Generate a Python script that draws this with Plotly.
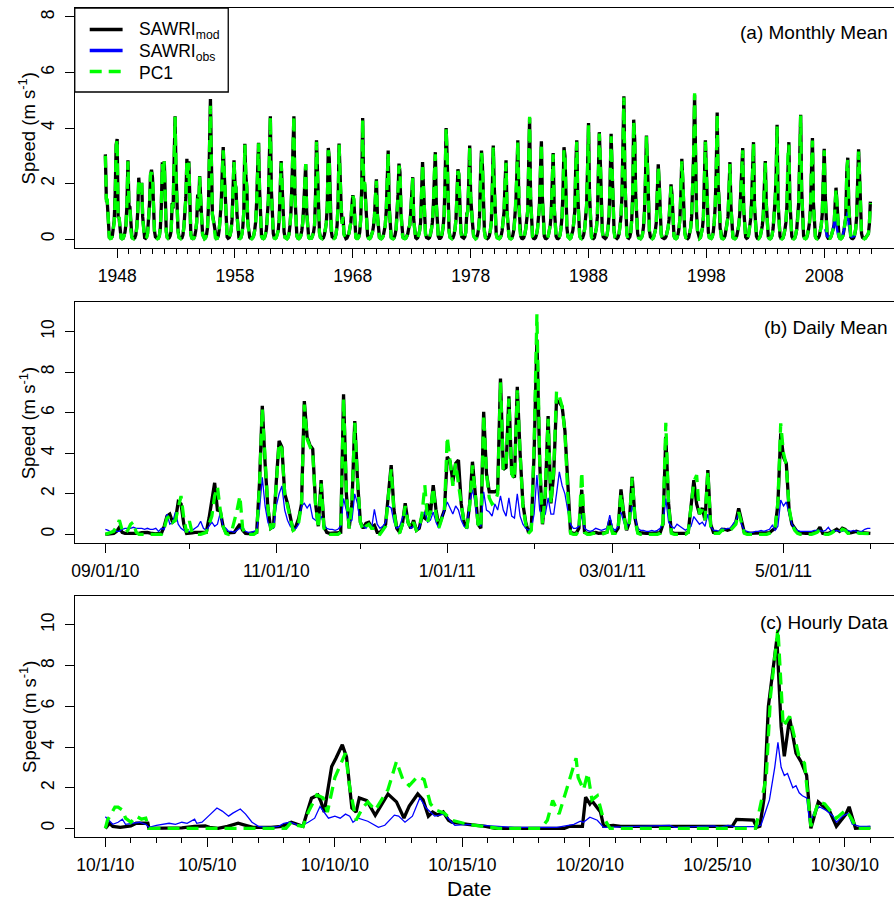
import pandas as pd
import plotly.graph_objects as go

# ---------------------------------------------------------------------------
# (a) Monthly mean speed, Jan 1947 - Dec 2011 (one row per year, Jan..Dec)
# ---------------------------------------------------------------------------
MONTHLY_START_YEAR = 1947

mod_monthly = [
    [3.05, 1.45, 1.30, 0.35, 0.08, 0.03, 0.04, 0.10, 0.30, 0.65, 1.60, 3.40],  # 1947
    [3.60, 0.80, 0.75, 0.20, 0.05, 0.02, 0.03, 0.12, 0.25, 0.55, 1.25, 2.84],  # 1948
    [1.20, 1.15, 0.35, 0.08, 0.03, 0.02, 0.05, 0.15, 0.45, 1.00, 2.21, 1.65],  # 1949
    [1.75, 2.03, 0.80, 0.20, 0.05, 0.03, 0.08, 0.22, 0.60, 1.30, 2.30, 2.50],  # 1950
    [2.20, 0.90, 0.30, 0.08, 0.03, 0.02, 0.04, 0.12, 0.40, 1.20, 2.77, 2.20],  # 1951
    [2.80, 1.10, 0.30, 0.07, 0.03, 0.05, 0.12, 0.30, 1.30, 1.10, 2.60, 4.42],  # 1952
    [2.30, 0.90, 0.30, 0.08, 0.03, 0.02, 0.04, 0.15, 0.45, 0.90, 1.50, 2.89],  # 1953
    [2.10, 2.80, 1.00, 0.20, 0.05, 0.02, 0.03, 0.10, 0.30, 0.60, 1.60, 1.00],  # 1954
    [2.27, 1.30, 0.80, 0.20, 0.05, 0.02, 0.05, 0.15, 0.40, 1.20, 3.20, 5.04],  # 1955
    [2.80, 0.90, 0.70, 0.45, 0.10, 0.03, 0.04, 0.12, 0.35, 0.70, 1.30, 2.40],  # 1956
    [3.31, 2.40, 1.40, 0.40, 0.08, 0.03, 0.05, 0.15, 0.30, 0.70, 1.60, 2.84],  # 1957
    [2.00, 1.85, 0.90, 0.20, 0.05, 0.03, 0.06, 0.18, 0.45, 1.00, 3.43, 2.30],  # 1958
    [1.90, 0.60, 0.20, 0.06, 0.03, 0.02, 0.05, 0.12, 0.30, 0.60, 1.30, 2.60],  # 1959
    [3.47, 1.80, 0.50, 0.12, 0.04, 0.02, 0.05, 0.15, 0.35, 0.80, 1.40, 2.90],  # 1960
    [4.42, 1.80, 0.60, 0.20, 0.05, 0.03, 0.06, 0.15, 0.30, 0.70, 1.80, 2.81],  # 1961
    [1.90, 0.70, 0.25, 0.07, 0.03, 0.02, 0.06, 0.18, 0.50, 1.00, 2.00, 3.97],  # 1962
    [4.42, 1.60, 0.50, 0.12, 0.04, 0.02, 0.05, 0.12, 0.30, 0.60, 1.20, 2.20],  # 1963
    [2.69, 1.00, 0.30, 0.08, 0.03, 0.02, 0.04, 0.12, 0.25, 0.50, 1.50, 3.56],  # 1964
    [2.40, 0.80, 0.25, 0.07, 0.03, 0.02, 0.05, 0.15, 0.35, 0.60, 1.20, 3.28],  # 1965
    [2.90, 1.10, 0.30, 0.08, 0.03, 0.03, 0.06, 0.20, 0.50, 1.30, 3.44, 1.60],  # 1966
    [1.30, 0.60, 0.80, 0.20, 0.05, 0.02, 0.04, 0.10, 0.20, 0.40, 0.60, 1.20],  # 1967
    [1.58, 1.40, 0.30, 0.08, 0.03, 0.03, 0.08, 0.25, 0.70, 1.80, 4.36, 1.90],  # 1968
    [2.00, 1.40, 0.50, 0.12, 0.04, 0.02, 0.05, 0.12, 0.25, 0.45, 0.80, 1.50],  # 1969
    [2.15, 0.90, 0.30, 0.08, 0.03, 0.02, 0.05, 0.12, 0.30, 0.50, 1.00, 2.20],  # 1970
    [3.19, 1.20, 0.30, 0.07, 0.03, 0.02, 0.05, 0.15, 0.35, 0.80, 1.60, 2.72],  # 1971
    [2.40, 0.90, 0.30, 0.08, 0.03, 0.02, 0.04, 0.10, 0.20, 0.40, 0.50, 1.00],  # 1972
    [1.50, 2.23, 0.70, 0.18, 0.05, 0.02, 0.05, 0.15, 0.30, 0.60, 1.50, 2.77],  # 1973
    [1.80, 0.60, 0.20, 0.06, 0.03, 0.02, 0.05, 0.15, 0.35, 0.60, 1.20, 2.40],  # 1974
    [3.13, 1.30, 0.40, 0.10, 0.03, 0.03, 0.07, 0.20, 0.45, 0.90, 2.20, 4.00],  # 1975
    [3.00, 1.10, 0.30, 0.08, 0.03, 0.02, 0.05, 0.15, 0.35, 0.70, 1.50, 2.51],  # 1976
    [2.30, 1.00, 0.30, 0.08, 0.03, 0.03, 0.08, 0.25, 0.90, 1.00, 2.00, 3.37],  # 1977
    [1.50, 0.80, 0.50, 0.12, 0.04, 0.02, 0.05, 0.15, 0.35, 0.80, 2.30, 3.19],  # 1978
    [2.60, 0.80, 0.30, 0.08, 0.03, 0.02, 0.05, 0.12, 0.30, 0.60, 1.80, 3.37],  # 1979
    [1.90, 0.70, 0.20, 0.06, 0.03, 0.02, 0.05, 0.12, 0.30, 0.60, 1.00, 2.00],  # 1980
    [2.84, 1.00, 0.40, 0.10, 0.03, 0.02, 0.05, 0.15, 0.35, 0.70, 1.30, 2.30],  # 1981
    [3.56, 1.30, 0.40, 0.10, 0.03, 0.02, 0.05, 0.15, 0.35, 0.60, 1.00, 2.60],  # 1982
    [4.36, 1.50, 0.40, 0.10, 0.03, 0.02, 0.05, 0.15, 0.35, 0.70, 1.20, 2.40],  # 1983
    [3.52, 1.50, 0.40, 0.10, 0.03, 0.02, 0.05, 0.12, 0.30, 0.50, 0.90, 2.10],  # 1984
    [3.10, 1.20, 0.40, 0.10, 0.03, 0.02, 0.05, 0.15, 0.40, 0.80, 1.70, 3.31],  # 1985
    [3.00, 1.20, 0.40, 0.10, 0.03, 0.02, 0.05, 0.15, 0.30, 0.60, 1.00, 2.60],  # 1986
    [3.56, 1.60, 0.50, 0.12, 0.04, 0.02, 0.05, 0.15, 0.35, 0.70, 1.20, 2.50],  # 1987
    [4.18, 1.60, 0.40, 0.10, 0.03, 0.02, 0.06, 0.18, 0.40, 0.80, 2.00, 3.85],  # 1988
    [2.80, 0.90, 0.30, 0.08, 0.03, 0.02, 0.06, 0.18, 0.45, 0.90, 2.10, 3.79],  # 1989
    [2.50, 0.80, 0.30, 0.08, 0.03, 0.02, 0.06, 0.18, 0.45, 0.80, 1.50, 3.50],  # 1990
    [5.14, 2.20, 0.70, 0.20, 0.05, 0.03, 0.08, 0.25, 0.70, 1.60, 4.30, 3.60],  # 1991
    [1.60, 0.60, 0.20, 0.06, 0.03, 0.02, 0.06, 0.18, 0.45, 1.00, 2.20, 3.73],  # 1992
    [2.70, 0.90, 0.30, 0.08, 0.03, 0.02, 0.05, 0.15, 0.30, 0.60, 1.60, 2.69],  # 1993
    [2.00, 0.60, 0.20, 0.06, 0.03, 0.02, 0.04, 0.10, 0.25, 0.40, 0.70, 1.40],  # 1994
    [1.97, 1.60, 0.50, 0.12, 0.04, 0.02, 0.05, 0.15, 0.35, 0.70, 1.60, 2.89],  # 1995
    [2.10, 0.80, 0.25, 0.07, 0.03, 0.02, 0.06, 0.18, 0.40, 0.80, 1.60, 3.00],  # 1996
    [5.20, 1.80, 0.90, 0.30, 0.07, 0.03, 0.06, 0.18, 0.40, 0.80, 1.80, 3.56],  # 1997
    [2.40, 0.80, 0.25, 0.07, 0.03, 0.03, 0.08, 0.25, 0.60, 1.20, 2.40, 4.56],  # 1998
    [1.90, 1.40, 0.40, 0.10, 0.03, 0.02, 0.05, 0.12, 0.30, 0.50, 0.80, 1.70],  # 1999
    [2.77, 1.20, 0.30, 0.08, 0.03, 0.02, 0.05, 0.12, 0.30, 0.50, 0.90, 1.80],  # 2000
    [2.90, 3.28, 1.10, 0.30, 0.07, 0.03, 0.05, 0.15, 0.35, 0.70, 1.30, 2.90],  # 2001
    [3.49, 1.20, 0.40, 0.10, 0.03, 0.02, 0.05, 0.12, 0.30, 0.50, 0.90, 2.00],  # 2002
    [2.81, 1.30, 0.40, 0.10, 0.03, 0.02, 0.05, 0.15, 0.40, 0.80, 1.40, 2.20],  # 2003
    [4.12, 1.30, 0.40, 0.10, 0.03, 0.02, 0.05, 0.15, 0.35, 0.60, 1.20, 2.90],  # 2004
    [3.49, 1.40, 0.40, 0.10, 0.03, 0.02, 0.05, 0.15, 0.35, 0.70, 1.30, 2.80],  # 2005
    [4.48, 1.80, 0.50, 0.12, 0.04, 0.02, 0.05, 0.15, 0.35, 0.60, 1.10, 2.60],  # 2006
    [3.64, 1.30, 0.40, 0.10, 0.03, 0.02, 0.05, 0.12, 0.30, 0.50, 0.90, 2.00],  # 2007
    [3.25, 1.60, 0.40, 0.10, 0.03, 0.02, 0.04, 0.10, 0.20, 0.35, 0.50, 1.20],  # 2008
    [1.85, 1.30, 0.40, 0.10, 0.03, 0.02, 0.05, 0.12, 0.30, 0.50, 0.80, 2.40],  # 2009
    [2.93, 1.20, 0.30, 0.08, 0.03, 0.02, 0.05, 0.15, 0.35, 0.80, 2.00, 3.23],  # 2010
    [2.30, 0.60, 0.20, 0.06, 0.03, 0.02, 0.04, 0.08, 0.12, 0.20, 0.55, 1.35],  # 2011
]

pc1_monthly = [
    [3.00, 1.40, 1.40, 0.30, 0.05, 0.02, 0.03, 0.10, 0.30, 0.60, 1.50, 3.30],  # 1947
    [3.60, 0.70, 0.80, 0.15, 0.03, 0.01, 0.03, 0.10, 0.25, 0.50, 1.30, 2.80],  # 1948
    [1.25, 1.20, 0.30, 0.05, 0.02, 0.01, 0.04, 0.15, 0.40, 1.00, 2.15, 1.70],  # 1949
    [1.80, 2.05, 0.75, 0.15, 0.03, 0.02, 0.06, 0.20, 0.60, 1.25, 2.35, 2.40],  # 1950
    [2.25, 0.85, 0.25, 0.05, 0.02, 0.01, 0.03, 0.12, 0.40, 1.20, 2.70, 2.25],  # 1951
    [2.80, 1.00, 0.25, 0.05, 0.02, 0.04, 0.10, 0.30, 1.20, 1.20, 2.60, 4.40],  # 1952
    [2.30, 0.85, 0.25, 0.05, 0.02, 0.01, 0.03, 0.15, 0.45, 0.90, 1.50, 2.80],  # 1953
    [2.20, 2.75, 0.95, 0.15, 0.03, 0.01, 0.02, 0.10, 0.30, 0.60, 1.55, 1.10],  # 1954
    [2.25, 1.20, 0.75, 0.15, 0.03, 0.01, 0.04, 0.15, 0.40, 1.20, 3.10, 4.80],  # 1955
    [2.70, 0.85, 0.65, 0.40, 0.05, 0.02, 0.03, 0.12, 0.35, 0.70, 1.30, 2.50],  # 1956
    [3.20, 2.45, 1.40, 0.35, 0.05, 0.02, 0.04, 0.15, 0.30, 0.70, 1.60, 2.80],  # 1957
    [2.05, 1.80, 0.85, 0.15, 0.03, 0.02, 0.05, 0.18, 0.45, 1.00, 3.40, 2.40],  # 1958
    [1.85, 0.55, 0.15, 0.04, 0.02, 0.01, 0.04, 0.12, 0.30, 0.60, 1.30, 2.55],  # 1959
    [3.45, 1.75, 0.45, 0.10, 0.03, 0.01, 0.04, 0.15, 0.35, 0.80, 1.40, 2.85],  # 1960
    [4.40, 1.75, 0.55, 0.15, 0.03, 0.02, 0.05, 0.15, 0.30, 0.70, 1.75, 2.75],  # 1961
    [1.95, 0.65, 0.20, 0.05, 0.02, 0.01, 0.05, 0.18, 0.50, 1.00, 2.00, 3.70],  # 1962
    [4.45, 1.55, 0.45, 0.10, 0.03, 0.01, 0.04, 0.12, 0.30, 0.60, 1.20, 2.25],  # 1963
    [2.70, 0.95, 0.25, 0.05, 0.02, 0.01, 0.03, 0.12, 0.25, 0.50, 1.50, 3.50],  # 1964
    [2.40, 0.75, 0.20, 0.05, 0.02, 0.01, 0.04, 0.15, 0.35, 0.60, 1.20, 3.20],  # 1965
    [2.95, 1.05, 0.25, 0.05, 0.02, 0.02, 0.05, 0.20, 0.50, 1.30, 3.40, 1.65],  # 1966
    [1.25, 0.55, 0.80, 0.15, 0.03, 0.01, 0.03, 0.10, 0.20, 0.40, 0.60, 1.20],  # 1967
    [1.55, 1.45, 0.25, 0.05, 0.02, 0.02, 0.07, 0.25, 0.70, 1.80, 4.30, 2.00],  # 1968
    [2.05, 1.40, 0.45, 0.10, 0.03, 0.01, 0.04, 0.12, 0.25, 0.45, 0.80, 1.50],  # 1969
    [2.10, 0.85, 0.25, 0.05, 0.02, 0.01, 0.04, 0.12, 0.30, 0.50, 1.00, 2.20],  # 1970
    [3.10, 1.15, 0.25, 0.05, 0.02, 0.01, 0.04, 0.15, 0.35, 0.80, 1.60, 2.65],  # 1971
    [2.45, 0.85, 0.25, 0.05, 0.02, 0.01, 0.03, 0.10, 0.20, 0.40, 0.50, 1.00],  # 1972
    [1.55, 2.20, 0.65, 0.15, 0.03, 0.01, 0.04, 0.15, 0.30, 0.60, 1.50, 2.70],  # 1973
    [1.85, 0.55, 0.15, 0.04, 0.02, 0.01, 0.04, 0.15, 0.35, 0.60, 1.20, 2.40],  # 1974
    [3.05, 1.25, 0.35, 0.08, 0.02, 0.02, 0.06, 0.20, 0.45, 0.90, 2.20, 4.00],  # 1975
    [3.05, 1.05, 0.25, 0.05, 0.02, 0.01, 0.04, 0.15, 0.35, 0.70, 1.50, 2.45],  # 1976
    [2.35, 0.95, 0.25, 0.05, 0.02, 0.02, 0.07, 0.25, 0.85, 1.00, 2.00, 3.30],  # 1977
    [1.55, 0.75, 0.45, 0.10, 0.03, 0.01, 0.04, 0.15, 0.35, 0.80, 2.30, 3.10],  # 1978
    [2.65, 0.75, 0.25, 0.05, 0.02, 0.01, 0.04, 0.12, 0.30, 0.60, 1.80, 3.30],  # 1979
    [1.95, 0.65, 0.15, 0.04, 0.02, 0.01, 0.04, 0.12, 0.30, 0.60, 1.00, 2.05],  # 1980
    [2.75, 0.95, 0.35, 0.08, 0.02, 0.01, 0.04, 0.15, 0.35, 0.70, 1.30, 2.35],  # 1981
    [3.50, 1.25, 0.35, 0.08, 0.02, 0.01, 0.04, 0.15, 0.35, 0.60, 1.00, 2.55],  # 1982
    [4.40, 1.45, 0.35, 0.08, 0.02, 0.01, 0.04, 0.15, 0.35, 0.70, 1.20, 2.45],  # 1983
    [3.45, 1.45, 0.35, 0.08, 0.02, 0.01, 0.04, 0.12, 0.30, 0.50, 0.90, 2.15],  # 1984
    [3.05, 1.15, 0.35, 0.08, 0.02, 0.01, 0.04, 0.15, 0.40, 0.80, 1.70, 3.20],  # 1985
    [3.00, 1.15, 0.35, 0.08, 0.02, 0.01, 0.04, 0.15, 0.30, 0.60, 1.00, 2.55],  # 1986
    [3.50, 1.55, 0.45, 0.10, 0.03, 0.01, 0.04, 0.15, 0.35, 0.70, 1.20, 2.55],  # 1987
    [4.10, 1.55, 0.35, 0.08, 0.02, 0.01, 0.05, 0.18, 0.40, 0.80, 2.00, 3.80],  # 1988
    [2.85, 0.85, 0.25, 0.05, 0.02, 0.01, 0.05, 0.18, 0.45, 0.90, 2.10, 3.70],  # 1989
    [2.55, 0.75, 0.25, 0.05, 0.02, 0.01, 0.05, 0.18, 0.45, 0.80, 1.50, 3.45],  # 1990
    [5.10, 2.15, 0.65, 0.15, 0.03, 0.02, 0.07, 0.25, 0.70, 1.60, 4.25, 3.55],  # 1991
    [1.65, 0.55, 0.15, 0.04, 0.02, 0.01, 0.05, 0.18, 0.45, 1.00, 2.20, 3.70],  # 1992
    [2.65, 0.85, 0.25, 0.05, 0.02, 0.01, 0.04, 0.15, 0.30, 0.60, 1.60, 2.60],  # 1993
    [2.05, 0.55, 0.15, 0.04, 0.02, 0.01, 0.03, 0.10, 0.25, 0.40, 0.70, 1.50],  # 1994
    [1.90, 1.60, 0.45, 0.10, 0.03, 0.01, 0.04, 0.15, 0.35, 0.70, 1.60, 2.80],  # 1995
    [2.15, 0.75, 0.20, 0.05, 0.02, 0.01, 0.05, 0.18, 0.40, 0.80, 1.60, 3.00],  # 1996
    [5.25, 1.75, 0.85, 0.25, 0.05, 0.02, 0.05, 0.18, 0.40, 0.80, 1.80, 3.50],  # 1997
    [2.45, 0.75, 0.20, 0.05, 0.02, 0.02, 0.07, 0.25, 0.60, 1.20, 2.40, 4.50],  # 1998
    [1.95, 1.35, 0.35, 0.08, 0.02, 0.01, 0.04, 0.12, 0.30, 0.50, 0.80, 1.75],  # 1999
    [2.70, 1.15, 0.25, 0.05, 0.02, 0.01, 0.04, 0.12, 0.30, 0.50, 0.90, 1.85],  # 2000
    [2.95, 3.20, 1.05, 0.25, 0.05, 0.02, 0.04, 0.15, 0.35, 0.70, 1.30, 2.95],  # 2001
    [3.45, 1.15, 0.35, 0.08, 0.02, 0.01, 0.04, 0.12, 0.30, 0.50, 0.90, 2.05],  # 2002
    [2.75, 1.25, 0.35, 0.08, 0.02, 0.01, 0.04, 0.15, 0.40, 0.80, 1.40, 2.25],  # 2003
    [4.05, 1.25, 0.35, 0.08, 0.02, 0.01, 0.04, 0.15, 0.35, 0.60, 1.20, 2.95],  # 2004
    [3.40, 1.35, 0.35, 0.08, 0.02, 0.01, 0.04, 0.15, 0.35, 0.70, 1.30, 2.85],  # 2005
    [4.45, 1.75, 0.45, 0.10, 0.03, 0.01, 0.04, 0.15, 0.35, 0.60, 1.10, 2.65],  # 2006
    [3.55, 1.25, 0.35, 0.08, 0.02, 0.01, 0.04, 0.12, 0.30, 0.50, 0.90, 2.05],  # 2007
    [3.20, 1.55, 0.35, 0.08, 0.02, 0.01, 0.03, 0.10, 0.20, 0.35, 0.50, 1.30],  # 2008
    [1.80, 1.30, 0.35, 0.08, 0.02, 0.01, 0.04, 0.12, 0.30, 0.50, 0.80, 2.50],  # 2009
    [2.85, 1.15, 0.25, 0.05, 0.02, 0.01, 0.04, 0.15, 0.35, 0.80, 2.00, 3.15],  # 2010
    [2.35, 0.55, 0.15, 0.04, 0.02, 0.01, 0.03, 0.08, 0.12, 0.20, 0.55, 1.30],  # 2011
]

# observed monthly means exist only from Feb 2008 to Sep 2010
obs_monthly_start = (2008, 2)
obs_monthly = [
    0.36, 0.20, 0.10, 0.08, 0.08, 0.10, 0.12, 0.20, 0.35, 0.55, 0.74,        # 2008 Feb-Dec
    0.60, 0.35, 0.15, 0.08, 0.06, 0.06, 0.08, 0.15, 0.30, 0.50, 0.65, 0.80,  # 2009
    0.98, 0.50, 0.25, 0.10, 0.08, 0.08, 0.10, 0.12, 0.12,                    # 2010 Jan-Sep
]

# ---------------------------------------------------------------------------
# (b) Daily mean speed, one value per day from 1 Sep 2010
# ---------------------------------------------------------------------------
DAILY_START = "2010-09-01"

mod_daily = [
    0.00, 0.02, 0.03, 0.05, 0.15, 0.35, 0.10, 0.05, 0.05, 0.04,
    0.05, 0.06, 0.05, 0.08, 0.10, 0.10, 0.06, 0.03, 0.02, 0.05,
    0.05, 0.40, 0.90, 1.00, 0.60, 0.70, 1.60, 1.50, 0.50, 0.05,
    0.05, 0.08, 0.10, 0.10, 0.12, 0.10, 0.10, 0.80, 1.60, 2.54,
    1.20, 1.15, 0.40, 0.10, 0.08, 0.08, 0.10, 0.30, 0.50, 0.20,
    0.05, 0.04, 0.05, 0.08, 0.10, 2.50, 6.34, 3.50, 1.30, 0.30,
    0.40, 2.60, 4.61, 4.30, 2.00, 1.53, 0.80, 0.20, 0.40, 0.79,
    1.50, 6.57, 4.80, 4.40, 4.20, 1.53, 0.40, 2.67, 0.40, 0.10,
    0.05, 0.05, 0.05, 0.08, 0.10, 6.90, 2.00, 0.30, 1.50, 5.58,
    2.60, 0.60, 0.30, 0.55, 0.60, 0.35, 0.45, 0.10, 0.10, 0.25,
    0.50, 2.00, 3.41, 1.20, 0.30, 0.10, 0.50, 1.53, 0.60, 0.30,
    0.70, 0.20, 0.30, 0.90, 0.80, 1.50, 1.00, 2.43, 1.20, 0.40,
    0.80, 1.20, 3.82, 3.60, 2.60, 3.50, 3.66, 1.50, 0.60, 0.30,
    1.50, 3.58, 2.00, 0.50, 0.30, 6.04, 3.00, 2.10, 2.10, 2.10,
    2.20, 7.68, 3.20, 3.30, 6.81, 3.00, 2.80, 7.27, 4.00, 1.50,
    0.60, 0.10, 0.30, 4.00, 9.60, 3.50, 0.50, 2.00, 5.83, 1.53,
    3.00, 6.62, 6.50, 6.30, 5.10, 2.20, 0.10, 0.05, 0.05, 0.30,
    2.20, 0.10, 0.05, 0.05, 0.08, 0.10, 0.05, 0.05, 0.08, 0.10,
    0.70, 0.10, 0.10, 0.30, 2.22, 1.00, 0.20, 0.60, 2.84, 0.80,
    0.10, 0.08, 0.05, 0.05, 0.05, 0.05, 0.05, 0.05, 0.08, 0.50,
    4.81, 1.50, 0.10, 0.05, 0.05, 0.05, 0.05, 0.05, 0.10, 1.60,
    2.67, 1.50, 1.00, 1.30, 0.70, 3.17, 0.50, 0.10, 0.08, 0.10,
    0.25, 0.25, 0.20, 0.25, 0.40, 0.60, 1.28, 0.60, 0.10, 0.05,
    0.05, 0.05, 0.05, 0.05, 0.05, 0.05, 0.05, 0.08, 0.20, 0.30,
    1.50, 4.98, 3.80, 3.50, 1.20, 0.50, 0.30, 0.10, 0.08, 0.05,
    0.05, 0.05, 0.05, 0.10, 0.15, 0.35, 0.05, 0.05, 0.05, 0.10,
    0.20, 0.25, 0.15, 0.30, 0.25, 0.10, 0.08, 0.10, 0.15, 0.10,
    0.08, 0.05, 0.05, 0.05,
]

pc1_daily = [
    0.00, 0.05, 0.08, 0.15, 0.40, 0.70, 0.20, 0.05, 0.20, 0.50,
    0.60, 0.10, 0.00, 0.00, 0.00, 0.00, 0.00, 0.00, 0.00, 0.00,
    0.00, 0.30, 0.80, 0.90, 0.60, 0.70, 1.40, 1.89, 0.80, 0.10,
    0.65, 0.05, 0.00, 0.00, 0.00, 0.05, 0.10, 0.50, 0.90, 1.90,
    2.35, 1.20, 0.40, 0.05, 0.00, 0.10, 0.60, 1.20, 1.89, 0.30,
    0.00, 0.00, 0.00, 0.00, 0.10, 2.40, 6.20, 3.60, 1.30, 0.30,
    0.40, 2.50, 4.50, 4.20, 2.00, 1.40, 0.70, 0.20, 0.30, 0.60,
    1.50, 6.40, 4.70, 4.30, 4.00, 1.50, 0.30, 2.50, 0.30, 0.05,
    0.00, 0.00, 0.00, 0.00, 0.10, 6.70, 2.10, 0.30, 1.50, 5.50,
    2.60, 0.60, 0.20, 0.40, 0.50, 0.30, 0.30, 0.05, 0.00, 0.20,
    0.40, 1.90, 3.20, 1.10, 0.20, 0.05, 0.50, 1.40, 0.60, 0.30,
    0.60, 0.20, 0.30, 1.00, 2.43, 0.60, 1.10, 2.30, 1.00, 0.30,
    0.80, 1.20, 4.81, 3.40, 2.40, 3.50, 2.40, 1.50, 0.60, 0.30,
    1.40, 3.40, 2.00, 0.50, 0.30, 5.90, 3.00, 1.80, 1.50, 1.60,
    2.00, 7.50, 3.20, 3.30, 6.70, 3.00, 2.70, 7.10, 4.00, 1.40,
    0.50, 0.05, 0.20, 4.50, 10.85, 3.60, 0.50, 2.10, 5.70, 1.50,
    3.20, 7.05, 6.80, 6.30, 5.00, 2.00, 0.05, 0.00, 0.00, 0.20,
    3.08, 0.10, 0.00, 0.00, 0.05, 0.05, 0.00, 0.00, 0.05, 0.10,
    0.60, 0.05, 0.05, 0.30, 2.00, 0.90, 0.20, 0.60, 2.80, 0.70,
    0.05, 0.00, 0.00, 0.00, 0.00, 0.00, 0.00, 0.00, 0.05, 0.60,
    5.50, 1.40, 0.05, 0.00, 0.00, 0.00, 0.00, 0.00, 0.10, 1.50,
    2.60, 2.92, 1.00, 1.20, 0.70, 3.10, 0.40, 0.05, 0.05, 0.05,
    0.20, 0.20, 0.15, 0.20, 0.35, 0.50, 1.10, 0.50, 0.05, 0.00,
    0.00, 0.00, 0.00, 0.00, 0.00, 0.00, 0.00, 0.05, 0.15, 0.30,
    1.60, 5.47, 4.00, 3.40, 1.30, 0.50, 0.20, 0.05, 0.00, 0.00,
    0.00, 0.00, 0.00, 0.05, 0.10, 0.25, 0.05, 0.00, 0.00, 0.05,
    0.15, 0.20, 0.10, 0.25, 0.20, 0.05, 0.05, 0.05, 0.10, 0.05,
    0.05, 0.03, 0.03, 0.03,
]

obs_daily = [
    0.25, 0.20, 0.10, 0.25, 0.15, 0.15, 0.25, 0.30, 0.30, 0.30,
    0.35, 0.30, 0.30, 0.30, 0.25, 0.30, 0.25, 0.25, 0.30, 0.15,
    0.30, 0.25, 1.00, 0.50, 0.60, 1.10, 0.50, 0.30, 0.20, 0.15,
    0.15, 0.20, 0.30, 0.40, 0.65, 0.30, 0.20, 0.40, 0.60, 0.40,
    0.50, 1.06, 0.40, 0.30, 0.15, 0.15, 0.10, 0.20, 0.30, 0.35,
    0.15, 0.10, 0.10, 0.15, 0.20, 1.20, 2.81, 1.40, 0.60, 0.30,
    0.30, 1.40, 2.00, 2.38, 1.20, 0.70, 0.40, 0.30, 0.30, 0.50,
    1.40, 1.53, 1.30, 1.50, 0.80, 0.70, 0.60, 0.90, 0.50, 0.30,
    0.25, 0.25, 0.20, 0.25, 0.40, 1.77, 1.20, 0.60, 0.70, 2.00,
    1.50, 0.50, 0.40, 0.30, 0.50, 0.30, 1.23, 0.50, 0.30, 0.40,
    0.60, 1.39, 1.30, 0.60, 0.30, 0.40, 0.80, 1.20, 0.60, 0.30,
    0.40, 0.20, 0.30, 0.80, 1.10, 0.60, 0.70, 1.10, 0.60, 0.30,
    0.80, 1.20, 1.60, 1.30, 1.00, 1.40, 1.20, 0.70, 0.40, 0.30,
    1.60, 2.20, 1.50, 0.50, 0.40, 2.10, 1.20, 1.10, 0.90, 1.50,
    1.20, 1.90, 1.20, 0.90, 1.80, 0.90, 0.80, 2.00, 0.90, 0.50,
    0.30, 0.20, 0.30, 1.00, 2.92, 1.20, 0.80, 1.00, 1.80, 1.00,
    1.00, 2.00, 3.08, 2.40, 2.00, 1.20, 0.50, 0.30, 0.30, 0.40,
    0.95, 0.30, 0.20, 0.15, 0.20, 0.30, 0.25, 0.20, 0.25, 0.30,
    0.95, 0.30, 0.20, 0.40, 1.10, 0.60, 0.30, 0.70, 1.39, 0.80,
    0.30, 0.20, 0.20, 0.15, 0.15, 0.20, 0.15, 0.20, 0.30, 0.60,
    1.77, 0.60, 0.40, 0.30, 0.50, 0.40, 0.30, 0.20, 0.30, 0.40,
    0.88, 0.70, 0.50, 0.60, 0.40, 1.00, 0.40, 0.20, 0.20, 0.15,
    0.30, 0.25, 0.30, 0.30, 0.50, 0.70, 1.00, 0.50, 0.20, 0.15,
    0.10, 0.10, 0.15, 0.15, 0.20, 0.15, 0.20, 0.25, 0.45, 0.20,
    0.40, 1.69, 1.40, 1.60, 1.00, 0.50, 0.30, 0.20, 0.15, 0.15,
    0.15, 0.15, 0.15, 0.20, 0.20, 0.20, 0.15, 0.20, 0.35, 0.15,
    0.15, 0.20, 0.15, 0.15, 0.20, 0.20, 0.15, 0.20, 0.15, 0.15,
    0.15, 0.25, 0.30, 0.30,
]

# ---------------------------------------------------------------------------
# (c) Hourly data, October 2010: (hour since 1 Oct 00:00, speed)
# ---------------------------------------------------------------------------
HOURLY_START = "2010-10-01"

mod_hour = [0, 4, 7, 14, 24, 29, 36, 40, 41, 48, 72, 84, 94, 98, 106, 115, 125, 132, 139, 156,
            166, 175, 180, 186, 190, 194, 200, 203, 206, 210, 213, 217, 223, 227, 232, 236, 239,
            246, 254, 266, 274, 281, 286, 294, 299, 304, 308, 313, 318, 323, 326, 341, 358, 367,
            432, 437, 449, 452, 456, 458, 463, 466, 469, 478, 485, 590, 594, 605, 610, 613, 616,
            620, 624, 632, 636, 639, 644, 650, 655, 660, 664, 671, 677, 682, 688, 694, 697, 700,
            706, 720]
mod_hourly = [0.00, 0.25, 0.10, 0.05, 0.12, 0.25, 0.25, 0.25, 0.00, 0.00, 0.02, 0.10, 0.12, 0.05,
              0.00, 0.10, 0.25, 0.15, 0.05, 0.05, 0.10, 0.30, 0.20, 0.10, 0.80, 1.48, 1.64, 1.30,
              0.80, 2.20, 3.04, 3.45, 4.11, 3.50, 1.00, 0.80, 1.50, 1.37, 0.64, 1.69, 1.30, 0.51,
              1.10, 1.69, 1.40, 0.60, 0.80, 0.65, 0.80, 0.40, 0.30, 0.20, 0.10, 0.00, 0.00, 0.10,
              0.10, 1.53, 1.20, 1.35, 1.00, 0.80, 0.10, 0.15, 0.10, 0.10, 0.44, 0.44, 0.40, 0.05,
              0.10, 1.50, 6.00, 9.33, 5.00, 3.54, 5.43, 3.70, 3.25, 2.60, 0.00, 1.30, 1.00, 0.80,
              0.10, 0.50, 0.70, 1.06, 0.00, 0.05]

pc1_hour = [0, 2, 9, 12, 16, 19, 24, 29, 34, 38, 41, 170, 175, 180, 186, 191, 199, 205, 209, 216,
            226, 230, 236, 242, 247, 254, 266, 274, 280, 286, 294, 300, 306, 311, 319, 326, 341,
            358, 370, 410, 416, 421, 427, 434, 443, 445, 450, 454, 458, 463, 468, 475, 612, 622,
            626, 633, 638, 644, 653, 658, 664, 671, 677, 688, 697, 702, 707, 720]
pc1_hourly = [0.00, 0.40, 1.04, 1.04, 0.90, 0.50, 0.30, 0.60, 0.45, 0.50, 0.00, 0.00, 0.30, 0.15,
              0.10, 0.80, 1.64, 1.50, 0.80, 2.50, 3.70, 2.00, 0.40, 1.00, 1.30, 0.90, 1.91, 3.29,
              2.40, 2.10, 2.55, 2.40, 1.20, 0.90, 0.75, 0.40, 0.20, 0.10, 0.00, 0.00, 0.40, 1.37,
              0.70, 1.90, 3.45, 2.50, 1.90, 2.72, 1.40, 1.60, 0.60, 0.00, 0.00, 2.50, 6.50, 9.82,
              5.00, 5.50, 3.50, 3.20, 0.10, 1.30, 1.20, 0.50, 0.90, 0.50, 0.00, 0.00]

obs_hour = [0, 4, 7, 12, 16, 19, 26, 32, 38, 41, 48, 54, 60, 66, 72, 77, 84, 86, 91, 97, 105, 110,
            116, 120, 122, 127, 132, 138, 144, 154, 163, 168, 174, 182, 185, 191, 197, 202, 210,
            216, 221, 226, 230, 233, 238, 247, 257, 263, 272, 276, 282, 289, 296, 302, 310, 319,
            325, 329, 341, 354, 369, 385, 425, 435, 441, 447, 450, 456, 463, 469, 490, 531, 536,
            573, 578, 586, 592, 612, 617, 625, 630, 633, 636, 639, 642, 647, 650, 653, 656, 660,
            663, 667, 672, 678, 685, 688, 694, 699, 703, 710, 720]
obs_hourly = [0.57, 0.35, 0.20, 0.30, 0.45, 0.20, 0.25, 0.30, 0.20, 0.05, 0.15, 0.20, 0.25, 0.20,
              0.30, 0.25, 0.45, 0.25, 0.30, 0.60, 1.00, 0.85, 0.60, 0.75, 0.80, 0.95, 0.70, 0.30,
              0.10, 0.05, 0.10, 0.25, 0.30, 0.15, 0.15, 0.30, 0.50, 1.07, 0.50, 0.60, 0.50, 0.70,
              0.60, 0.30, 0.50, 0.35, 0.05, 0.15, 0.65, 0.60, 0.30, 0.60, 1.50, 1.00, 0.60, 0.70,
              0.35, 0.15, 0.20, 0.15, 0.10, 0.05, 0.05, 0.15, 0.20, 0.35, 0.30, 0.55, 0.40, 0.05,
              0.08, 0.15, 0.05, 0.12, 0.05, 0.15, 0.08, 0.08, 0.15, 1.40, 3.00, 4.23, 3.00, 2.60,
              2.70, 2.00, 2.10, 1.75, 1.60, 1.50, 0.25, 0.80, 1.06, 0.90, 0.60, 0.30, 0.60, 0.73,
              0.20, 0.10, 0.10]

# tick labels
year_labels = [1948, 1958, 1968, 1978, 1988, 1998, 2008]
daily_tick_dates = ["2010-09-01", "2010-11-01", "2011-01-01", "2011-03-01", "2011-05-01"]
daily_tick_text = ["09/01/10", "11/01/10", "1/01/11", "03/01/11", "5/01/11"]
hourly_tick_dates = ["2010-10-01", "2010-10-05", "2010-10-10", "2010-10-15",
                     "2010-10-20", "2010-10-25", "2010-10-30"]
hourly_tick_text = ["10/1/10", "10/5/10", "10/10/10", "10/15/10", "10/20/10", "10/25/10", "10/30/10"]

NAMES = ["SAWRI<sub>mod</sub>", "SAWRI<sub>obs</sub>", "PC1"]

# ---------------------------------------------------------------------------
# build x coordinates
# ---------------------------------------------------------------------------
mod_m = [v for row in mod_monthly for v in row]
pc1_m = [v for row in pc1_monthly for v in row]
x_month = [MONTHLY_START_YEAR + i / 12 for i in range(len(mod_m))]
obs_x0 = obs_monthly_start[0] + (obs_monthly_start[1] - 1) / 12
x_obs_month = [obs_x0 + i / 12 for i in range(len(obs_monthly))]

d0 = pd.Timestamp(DAILY_START)
x_day = [d0 + pd.Timedelta(days=i) for i in range(len(mod_daily))]

h0 = pd.Timestamp(HOURLY_START)


def hx(hours):
    return [h0 + pd.Timedelta(hours=h) for h in hours]


# ---------------------------------------------------------------------------
# geometry (pixels of the 894 x 901 page)
# ---------------------------------------------------------------------------
W, H = 894, 901
LEFT = 72
FRAME_RIGHT = 901          # the plot frame continues just past the page edge
CLIP = (W - LEFT) / (FRAME_RIGHT - LEFT)


def px(x):
    return x / W


def py(y):
    return 1 - y / H


def ydom(top, bottom):
    return [py(bottom), py(top)]


def padded(lo, hi):
    span = hi - lo
    a, b = lo - 0.04 * span, hi + 0.04 * span
    return a, a + (b - a) * CLIP


FONT = "Liberation Sans, Arial, Helvetica, sans-serif"
TICKFONT = dict(family=FONT, size=17.5, color="black")
BLACK, BLUE, GREEN = "#000000", "#0000FF", "#00FF00"
DASH = "12px,7px"

fig = go.Figure()

# panel (a)
fig.add_trace(go.Scatter(x=x_month, y=mod_m, mode="lines", name=NAMES[0],
                         line=dict(color=BLACK, width=3.3), xaxis="x", yaxis="y"))
fig.add_trace(go.Scatter(x=x_obs_month, y=obs_monthly, mode="lines", name=NAMES[1],
                         line=dict(color=BLUE, width=2.4), xaxis="x", yaxis="y"))
fig.add_trace(go.Scatter(x=x_month, y=pc1_m, mode="lines", name=NAMES[2],
                         line=dict(color=GREEN, width=3.3, dash=DASH), xaxis="x", yaxis="y"))

# panel (b)
fig.add_trace(go.Scatter(x=x_day, y=mod_daily, mode="lines", name=NAMES[0],
                         line=dict(color=BLACK, width=3.3), xaxis="x2", yaxis="y2"))
fig.add_trace(go.Scatter(x=x_day, y=obs_daily, mode="lines", name=NAMES[1],
                         line=dict(color=BLUE, width=1.3), xaxis="x2", yaxis="y2"))
fig.add_trace(go.Scatter(x=x_day, y=pc1_daily, mode="lines", name=NAMES[2],
                         line=dict(color=GREEN, width=3.3, dash=DASH), xaxis="x2", yaxis="y2"))

# panel (c)
fig.add_trace(go.Scatter(x=hx(mod_hour), y=mod_hourly, mode="lines", name=NAMES[0],
                         line=dict(color=BLACK, width=3.3), xaxis="x3", yaxis="y3"))
fig.add_trace(go.Scatter(x=hx(obs_hour), y=obs_hourly, mode="lines", name=NAMES[1],
                         line=dict(color=BLUE, width=1.3), xaxis="x3", yaxis="y3"))
fig.add_trace(go.Scatter(x=hx(pc1_hour), y=pc1_hourly, mode="lines", name=NAMES[2],
                         line=dict(color=GREEN, width=3.3, dash=DASH), xaxis="x3", yaxis="y3"))

# axis ranges (4 % padding on each side of the data)
ya0, ya1 = -0.32, 8.32
yb0, yb1 = -0.44, 11.44

xa0, xa1 = padded(x_month[0], x_month[-1])
db0, db1 = padded(0, len(mod_daily) - 1)
hc0, hc1 = padded(0, mod_hour[-1])

axis_common = dict(showline=True, linecolor="black", linewidth=1.3, showgrid=False,
                   zeroline=False, ticks="outside", tickwidth=1.3, tickcolor="black",
                   tickfont=TICKFONT)
xdom = [px(LEFT), 1.0]


def xaxis(anchor, rng, tickvals, ticktext, minor_vals):
    return dict(axis_common, anchor=anchor, domain=xdom, range=rng, mirror=True,
                tickmode="array", tickvals=tickvals, ticktext=ticktext, ticklen=9,
                ticklabelstandoff=3,
                minor=dict(tickmode="array", tickvals=minor_vals, ticks="outside",
                           ticklen=5, tickwidth=1.3, tickcolor="black"))


def yaxis(anchor, dom, rng, tickvals):
    return dict(axis_common, anchor=anchor, domain=dom, range=rng, mirror=False,
                tickmode="array", tickvals=tickvals, ticklen=9, tickangle=-90,
                ticklabelstandoff=4)


minor_years = list(range(1948, 2013))
minor_months = [str(p.date()) for p in pd.date_range("2010-09-01", "2011-06-01", freq="MS")]
minor_days = [str(p.date()) for p in pd.date_range("2010-10-01", "2010-10-31", freq="D")]

fig.update_layout(
    width=W, height=H,
    margin=dict(l=0, r=0, t=0, b=0),
    paper_bgcolor="white", plot_bgcolor="white",
    font=dict(family=FONT, color="black"),
    showlegend=False,
    xaxis=xaxis("y", [xa0, xa1], year_labels, [str(y) for y in year_labels], minor_years),
    yaxis=yaxis("x", ydom(8, 248), [ya0, ya1], [0, 2, 4, 6, 8]),
    xaxis2=xaxis("y2", [d0 + pd.Timedelta(days=db0), d0 + pd.Timedelta(days=db1)],
                 daily_tick_dates, daily_tick_text, minor_months),
    yaxis2=yaxis("x2", ydom(302.3, 543.3), [yb0, yb1], [0, 2, 4, 6, 8, 10]),
    xaxis3=xaxis("y3", [h0 + pd.Timedelta(hours=hc0), h0 + pd.Timedelta(hours=hc1)],
                 hourly_tick_dates, hourly_tick_text, minor_days),
    yaxis3=yaxis("x3", ydom(595.7, 837.3), [yb0, yb1], [0, 2, 4, 6, 8, 10]),
)

# legend box in the top-left corner of panel (a)
fig.add_shape(type="rect", xref="paper", yref="paper",
              x0=px(72), x1=px(226), y0=py(92), y1=py(8),
              line=dict(color="black", width=1.3), fillcolor="white", layer="above")
legend_rows = [
    (NAMES[0], dict(color=BLACK, width=3.3), 29.5),
    (NAMES[1], dict(color=BLUE, width=3.3), 50.5),
    (NAMES[2], dict(color=GREEN, width=3.3, dash=DASH), 71.5),
]
for label, style, ypx in legend_rows:
    fig.add_shape(type="line", xref="paper", yref="paper",
                  x0=px(87), x1=px(120), y0=py(ypx), y1=py(ypx), line=style, layer="above")
    fig.add_annotation(text=label, xref="paper", yref="paper", x=px(134), y=py(ypx + 1.5),
                       xanchor="left", yanchor="middle", showarrow=False,
                       font=dict(family=FONT, size=17.5, color="black"))

panel_titles = [("(a) Monthly Mean", 33), ("(b) Daily Mean", 327.5), ("(c) Hourly Data", 622.5)]
for text, ypx in panel_titles:
    fig.add_annotation(text=text, xref="paper", yref="paper", x=px(890), y=py(ypx),
                       xanchor="right", yanchor="middle", showarrow=False,
                       font=dict(family=FONT, size=19, color="black"))

for top, bottom in [(8, 248), (302.3, 543.3), (595.7, 837.3)]:
    fig.add_annotation(text="Speed (m s<sup>-1</sup>)", xref="paper", yref="paper",
                       x=px(24.5), y=py((top + bottom) / 2), textangle=-90,
                       xanchor="center", yanchor="middle", showarrow=False,
                       font=dict(family=FONT, size=18.5, color="black"))

fig.add_annotation(text="Date", xref="paper", yref="paper", x=px(468), y=py(888),
                   xanchor="center", yanchor="middle", showarrow=False,
                   font=dict(family=FONT, size=21, color="black"))

fig.write_html("out.html")
